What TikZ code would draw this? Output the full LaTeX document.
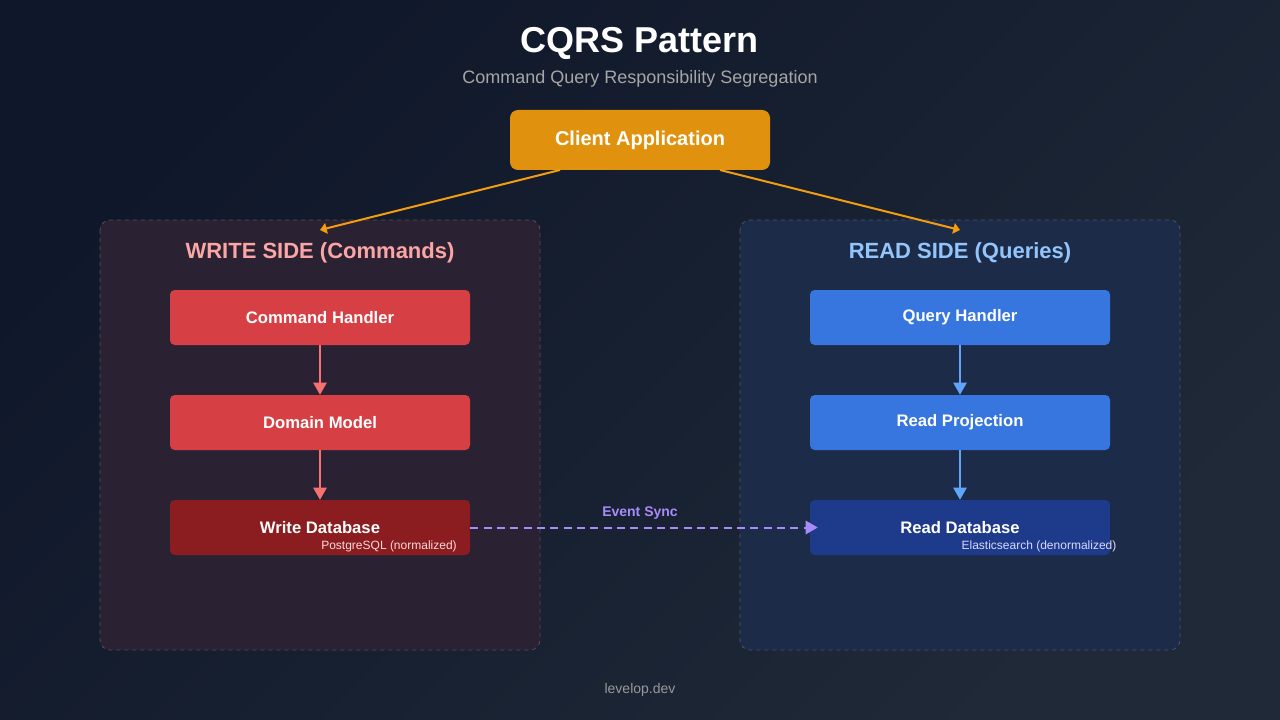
\documentclass[tikz,border=0pt]{standalone}
\usepackage{fontspec}
\setmainfont{Liberation Sans}
\usetikzlibrary{arrows.meta}
\definecolor{bgA}{HTML}{0F172A}
\definecolor{bgB}{HTML}{1F2937}
\definecolor{wpanel}{HTML}{2A2233}
\definecolor{rpanel}{HTML}{1C2B48}
\definecolor{wbox}{HTML}{D64045}
\definecolor{wdb}{HTML}{8B1C1F}
\definecolor{rbox}{HTML}{3676DE}
\definecolor{rdb}{HTML}{1E3A8A}
\definecolor{orangeC}{HTML}{E0920E}
\definecolor{orangeL}{HTML}{F59E0B}
\definecolor{wtitle}{HTML}{FCA5A5}
\definecolor{rtitle}{HTML}{93C5FD}
\definecolor{warrow}{HTML}{F87171}
\definecolor{rarrow}{HTML}{60A5FA}
\definecolor{purp}{HTML}{A78BFA}
\begin{document}
\begin{tikzpicture}[x=0.75pt,y=-0.75pt,
  panel/.style={draw=white!20!#1,dashed,line width=0.6pt,rounded corners=7.5pt,fill=#1},
  box/.style={fill=#1,rounded corners=3.5pt,minimum width=225pt,minimum height=41.25pt,text=white,font=\fontsize{12.5}{14}\selectfont\bfseries,inner sep=0pt},
  sub/.style={font=\fontsize{9}{10}\selectfont,inner sep=0pt},
  flow/.style={draw=#1,line width=1pt,-{Triangle[length=9pt,width=10pt]}}]
\fill[bottom color=bgB,top color=bgA,shading angle=45] (0,0) rectangle (1280,720);
\useasboundingbox (0,0) rectangle (1280,720);
\node[text=white,font=\fontsize{27}{30}\selectfont\bfseries] (title) at (640,43) {CQRS Pattern};
\node[text=gray!70!white,font=\fontsize{13.5}{15}\selectfont] (subt) at (640,79) {Command Query Responsibility Segregation};
\node[fill=orangeC,rounded corners=6pt,minimum width=195pt,minimum height=45pt,text=white,font=\fontsize{15}{17}\selectfont\bfseries] (client) at (640,140) {Client Application};
\draw[panel=wpanel] (100,220) rectangle (540,650);
\draw[panel=rpanel] (740,220) rectangle (1180,650);
\coordinate (cl) at (560,170); \coordinate (cr) at (720,170);
\coordinate (wt) at (320,230); \coordinate (rt) at (960,230);
\draw[draw=orangeL,line width=1.5pt,-{Triangle[length=5pt,width=8pt]}] (cl) -- (wt);
\draw[draw=orangeL,line width=1.5pt,-{Triangle[length=5pt,width=8pt]}] (cr) -- (rt);
\node[text=wtitle,font=\fontsize{16.5}{18}\selectfont\bfseries] (wtl) at (320,253) {WRITE SIDE (Commands)};
\node[text=rtitle,font=\fontsize{16.5}{18}\selectfont\bfseries] (rtl) at (960,253) {READ SIDE (Queries)};
\node[box=wbox] (ch) at (320,317.5) {Command Handler};
\node[box=wbox] (dm) at (320,422.5) {Domain Model};
\node[box=wdb] (wd) at (320,527.5) {\raisebox{-1pt}{Write Database}};
\node[box=rbox] (qh) at (960,317.5) {Query Handler};
\node[box=rbox] (rp) at (960,422.5) {Read Projection};
\node[box=rdb] (rd) at (960,527.5) {\raisebox{-1pt}{Read Database}};
\node[sub,text=red!15!white] (pg) at (389,546) {PostgreSQL (normalized)};
\node[sub,text=blue!15!white] (es) at (1039,546) {Elasticsearch (denormalized)};
\draw[flow=warrow] (ch) -- (dm);
\draw[flow=warrow] (dm) -- (wd);
\draw[flow=rarrow] (qh) -- (rp);
\draw[flow=rarrow] (rp) -- (rd);
\draw[draw=purp,line width=1.5pt,dash pattern=on 6pt off 4pt,-{Triangle[length=9pt,width=10pt]}] (wd.east) -- ([xshift=6pt]rd.west);
\node[text=purp,font=\fontsize{10.5}{12}\selectfont\bfseries] (ev) at (640,513) {Event Sync};
\node[text=gray!80!white,font=\fontsize{10.5}{12}\selectfont] (ft) at (640,690) {levelop.dev};
\end{tikzpicture}
\end{document}
